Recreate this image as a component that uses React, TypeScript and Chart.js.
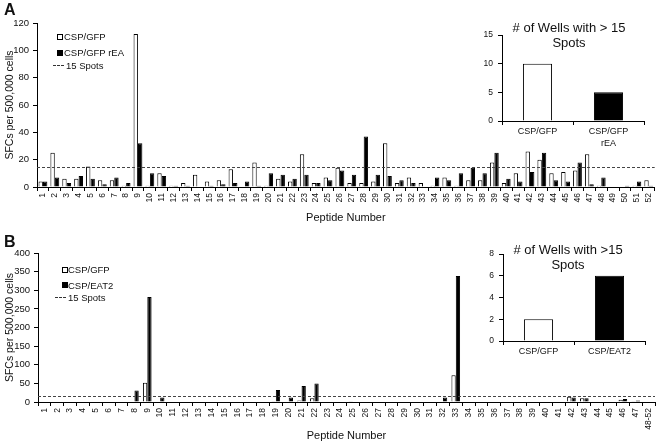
import React, { useEffect, useRef } from 'react';
import { Chart, registerables } from 'chart.js';

Chart.register(...registerables);

const FONT = "'Liberation Sans', Arial, Helvetica, sans-serif";
const TEXT = '#111111';
Chart.defaults.font.family = FONT;
Chart.defaults.color = TEXT;

// ---------- Data ----------
const PEPTIDES_A = ['1','2','3','4','5','6','7','8','9','10','11','12','13','14','15','16','17','18','19','20','21','22','23','24','25','26','27','28','29','30','31','32','33','34','35','36','37','38','39','40','41','42','43','44','45','46','47','48','49','50','51','52'];
const GFP_A = [4,25,6,6,15,5,5,1,112,1, 10,1,3,9,4,5,13,0,18,1, 6,4,24,3,7,14,3,3,4,32, 3,7,3,1,7,1,5,5,18,3, 10,26,20,10,11,12,24,1,0,0, 1,5];
const REA_A = [4,7,3,8,6,2,7,3,32,10, 8,1,1,0,1,2,3,4,1,10, 9,6,9,3,5,12,9,37,9,8, 5,3,0,7,5,10,14,10,25,6, 4,11,25,5,4,18,2,7,0,1, 4,1];

const PEPTIDES_B = ['1','2','3','4','5','6','7','8','9','10','11','12','13','14','15','16','17','18','19','20','21','22','23','24','25','26','27','28','29','30','31','32','33','34','35','36','37','38','39','40','41','42','43','44','45','46','47','48-52'];
const GFP_B = [0,0,0,0,0,0,0,0,52,0, 0,0,0,0,0,0,0,0,2,0, 4,10,0,0,2,0,0,0,0,0, 0,0,72,0,0,0,0,0,0,0, 0,14,10,0,0,6,1,0];
const EAT2_B = [0,0,0,0,0,0,0,31,282,12, 0,0,0,0,0,0,0,0,32,12, 43,50,0,0,0,0,0,0,0,0, 0,12,338,0,0,0,0,0,0,0, 0,12,10,0,0,8,4,0];

const WELLS_CATS_A = [['CSP/GFP'], ['CSP/GFP', 'rEA']];
const WELLS_A = [10, 5];
const WELLS_CATS_B = ['CSP/GFP', 'CSP/EAT2'];
const WELLS_B = [2, 6];

const THRESHOLD = 15;
const Y_TITLE = 'SFCs per 500,000 cells';
const X_TITLE = 'Peptide Number';
const INSET_TITLE_A = ['# of Wells with > 15', 'Spots'];
const INSET_TITLE_B = ['# of Wells with >15', 'Spots'];

// ---------- Plugins ----------
const thresholdPlugin = {
  id: 'thresholdLine',
  afterDatasetsDraw(chart: any) {
    const { ctx, chartArea, scales } = chart;
    const y = Math.round(scales.y.getPixelForValue(THRESHOLD)) + 0.5;
    ctx.save();
    ctx.setLineDash([3, 2]);
    ctx.strokeStyle = '#444';
    ctx.lineWidth = 1;
    ctx.beginPath();
    ctx.moveTo(chartArea.left, y);
    ctx.lineTo(chartArea.right, y);
    ctx.stroke();
    ctx.restore();
  },
};

function mainConfig(opts: any) {
  const { labels, s1, s2, l1, l2, yMax, yStep, catPct, padTop, padRight, xH, yW, yFont, titlePadBottom } = opts;
  return {
    type: 'bar',
    data: {
      labels,
      datasets: [
        { label: l1, data: s1, backgroundColor: '#ffffff', borderColor: '#000', borderWidth: 1, categoryPercentage: catPct, barPercentage: 0.98 },
        { label: l2, data: s2, backgroundColor: '#000000', borderColor: '#000', borderWidth: 1, categoryPercentage: catPct, barPercentage: 0.98 },
      ],
    },
    options: {
      animation: false,
      responsive: false,
      maintainAspectRatio: false,
      layout: { padding: { top: padTop, right: padRight, left: 0, bottom: 0 } },
      plugins: { legend: { display: false }, tooltip: { enabled: false }, title: { display: false } },
      scales: {
        x: {
          grid: { display: true, drawOnChartArea: false, drawTicks: true, tickLength: 4, color: '#000', offset: true },
          border: { display: true, color: '#000', width: 1 },
          ticks: { minRotation: 90, maxRotation: 90, autoSkip: false, font: { size: 8.5 }, color: TEXT, padding: 2 },
          title: { display: true, text: X_TITLE, font: { size: 11 }, color: TEXT, padding: { top: 0, bottom: titlePadBottom } },
          afterFit: (s: any) => { s.height = xH; },
        },
        y: {
          min: 0,
          max: yMax,
          grid: { display: true, drawOnChartArea: false, drawTicks: true, tickLength: 4, color: '#000' },
          border: { display: true, color: '#000', width: 1 },
          ticks: { stepSize: yStep, font: { size: yFont }, color: TEXT, padding: 4 },
          title: { display: true, text: Y_TITLE, font: { size: 10.5 }, color: TEXT, padding: { top: 4, bottom: 0 } },
          afterFit: (s: any) => { s.width = yW; },
        },
      },
    },
    plugins: [thresholdPlugin],
  };
}

function insetConfig(opts: any) {
  const { labels, values, yMax, yStep, padTop, padRight, xH, yW } = opts;
  return {
    type: 'bar',
    data: {
      labels,
      datasets: [
        {
          label: 'Wells',
          data: values,
          backgroundColor: ['#ffffff', '#000000'],
          borderColor: '#000',
          borderWidth: 1,
          categoryPercentage: 0.41,
          barPercentage: 1,
        },
      ],
    },
    options: {
      animation: false,
      responsive: false,
      maintainAspectRatio: false,
      layout: { padding: { top: padTop, right: padRight, left: 0, bottom: 0 } },
      plugins: { legend: { display: false }, tooltip: { enabled: false } },
      scales: {
        x: {
          grid: { display: true, drawOnChartArea: false, drawTicks: true, tickLength: 4, color: '#000', offset: true },
          border: { display: true, color: '#000', width: 1 },
          ticks: { font: { size: 9, lineHeight: 1.3 }, color: TEXT, padding: 1, maxRotation: 0, minRotation: 0 },
          afterFit: (s: any) => { s.height = xH; },
        },
        y: {
          min: 0,
          max: yMax,
          grid: { display: true, drawOnChartArea: false, drawTicks: true, tickLength: 4, color: '#000' },
          border: { display: true, color: '#000', width: 1 },
          ticks: { stepSize: yStep, font: { size: 8.5 }, color: TEXT, padding: 5 },
          afterFit: (s: any) => { s.width = yW; },
        },
      },
    },
  };
}

function ChartCanvas({ make, left, top, width, height }: any) {
  const ref = useRef<HTMLCanvasElement | null>(null);
  useEffect(() => {
    const chart = new Chart(ref.current as any, make() as any);
    return () => chart.destroy();
  }, []);
  return (
    <canvas
      ref={ref}
      width={width}
      height={height}
      style={{ position: 'absolute', left, top, width, height, display: 'block' }}
    />
  );
}

function Txt({ left, top, size, bold, children, width, align, lh }: any) {
  return (
    <div
      style={{
        position: 'absolute',
        left,
        top,
        width,
        fontSize: size,
        fontWeight: bold ? 'bold' : 'normal',
        lineHeight: (lh || size) + 'px',
        textAlign: align || 'left',
        color: TEXT,
        whiteSpace: 'nowrap',
        fontFamily: FONT,
      }}
    >
      {children}
    </div>
  );
}

function Square({ left, top, fill }: any) {
  return (
    <div
      style={{
        position: 'absolute',
        left,
        top,
        width: 4,
        height: 4,
        border: '1px solid #000',
        background: fill,
      }}
    />
  );
}

function Dash({ left, top, width }: any) {
  return (
    <div
      style={{
        position: 'absolute',
        left,
        top,
        width,
        height: 1,
        background: 'repeating-linear-gradient(to right, #333 0px, #333 3px, transparent 3px, transparent 4px)',
      }}
    />
  );
}

export default function App() {
  return (
    <div style={{ position: 'absolute', left: 0, top: 0, width: 661, height: 445, background: '#fff', overflow: 'hidden' }}>
      <ChartCanvas
        left={0}
        top={0}
        width={661}
        height={229}
        make={() =>
          mainConfig({
            labels: PEPTIDES_A, s1: GFP_A, s2: REA_A, l1: 'CSP/GFP', l2: 'CSP/GFP rEA',
            yMax: 120, yStep: 20, catPct: 0.75, padTop: 23, padRight: 6, xH: 42, yW: 37, yFont: 9.5, titlePadBottom: 4,
          })
        }
      />
      <ChartCanvas
        left={0}
        top={226}
        width={661}
        height={219}
        make={() =>
          mainConfig({
            labels: PEPTIDES_B, s1: GFP_B, s2: EAT2_B, l1: 'CSP/GFP', l2: 'CSP/EAT2',
            yMax: 400, yStep: 50, catPct: 0.68, padTop: 27, padRight: 6, xH: 43, yW: 38, yFont: 9.5, titlePadBottom: 2,
          })
        }
      />
      <ChartCanvas
        left={440}
        top={0}
        width={221}
        height={150}
        make={() =>
          insetConfig({ labels: WELLS_CATS_A, values: WELLS_A, yMax: 15, yStep: 5, padTop: 35, padRight: 17, xH: 29, yW: 62 })
        }
      />
      <ChartCanvas
        left={440}
        top={236}
        width={221}
        height={150}
        make={() =>
          insetConfig({ labels: WELLS_CATS_B, values: WELLS_B, yMax: 8, yStep: 2, padTop: 18, padRight: 16, xH: 45, yW: 63 })
        }
      />

      {/* Panel labels */}
      <Txt left={4} top={2} size={16} bold>A</Txt>
      <Txt left={4} top={234} size={16} bold>B</Txt>

      {/* Legend A */}
      <Square left={57} top={34} fill="#fff" />
      <Txt left={64} top={31} size={9.5} lh={11}>CSP/GFP</Txt>
      <Square left={57} top={50} fill="#000" />
      <Txt left={64} top={47} size={9.5} lh={11}>CSP/GFP rEA</Txt>
      <Dash left={53} top={65} width={11} />
      <Txt left={66} top={60} size={9.5} lh={11}>15 Spots</Txt>

      {/* Legend B */}
      <Square left={62} top={267} fill="#fff" />
      <Txt left={68} top={264} size={9.5} lh={11}>CSP/GFP</Txt>
      <Square left={62} top={282} fill="#000" />
      <Txt left={68} top={280} size={9.5} lh={11}>CSP/EAT2</Txt>
      <Dash left={55} top={297} width={11} />
      <Txt left={68} top={292} size={9.5} lh={11}>15 Spots</Txt>

      {/* Inset titles */}
      <Txt left={489} top={20} width={160} align="center" size={13} lh={15}>
        {INSET_TITLE_A[0]}<br />{INSET_TITLE_A[1]}
      </Txt>
      <Txt left={488} top={242} width={160} align="center" size={13} lh={15}>
        {INSET_TITLE_B[0]}<br />{INSET_TITLE_B[1]}
      </Txt>
    </div>
  );
}
